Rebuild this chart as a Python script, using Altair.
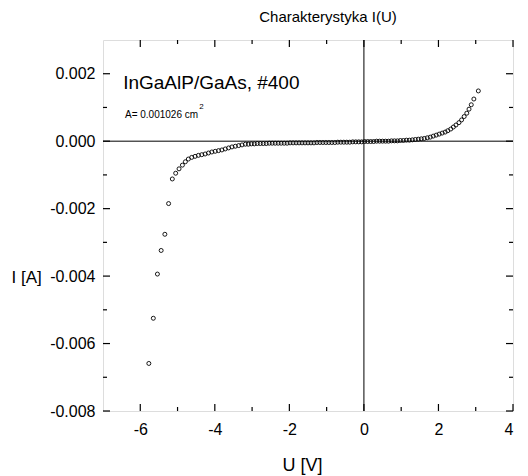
import altair as alt
import pandas as pd

# ---- data ----
U = [-5.77, -5.65, -5.54, -5.44, -5.34, -5.24, -5.14, -5.05, -4.96, -4.87,
     -4.79, -4.71, -4.62, -4.53, -4.44, -4.35, -4.26, -4.17, -4.08, -3.99,
     -3.90, -3.81, -3.72, -3.63, -3.54, -3.45, -3.36, -3.27,
     -3.18, -3.10, -3.02, -2.94, -2.86, -2.78, -2.70, -2.62, -2.54, -2.46,
     -2.38, -2.30, -2.22, -2.14, -2.06, -1.98, -1.90, -1.82, -1.74, -1.66,
     -1.58, -1.50, -1.42, -1.34, -1.26, -1.18, -1.10, -1.02, -0.94, -0.86,
     -0.78, -0.70, -0.62, -0.54, -0.46, -0.38, -0.30, -0.22, -0.14, -0.06,
     0.02, 0.10, 0.18, 0.26, 0.34, 0.42, 0.50, 0.58, 0.66, 0.74,
     0.82, 0.90, 0.98, 1.06, 1.14, 1.22, 1.30, 1.38, 1.46, 1.54,
     1.62, 1.70, 1.78, 1.86, 1.94, 2.02, 2.10, 2.18, 2.25, 2.33,
     2.40, 2.47, 2.55, 2.62, 2.69, 2.76, 2.82, 2.88, 2.95, 3.07]
I = [-0.00659, -0.00525, -0.00394, -0.00324, -0.00276, -0.00185, -0.00112, -0.00095, -0.00082, -0.00071,
     -0.00061, -0.00053, -0.00048, -0.00045, -0.00042, -0.00040, -0.00038, -0.00035, -0.00032, -0.00030,
     -0.00028, -0.00026, -0.00023, -0.00020, -0.00017, -0.00015, -0.00013, -0.00011,
     -0.00009, -0.00009, -0.00008, -0.00008, -0.00007, -0.00007, -0.00007, -0.00007, -0.00006, -0.00006,
     -0.00006, -0.00006, -0.00006, -0.00006, -0.00006, -0.00005, -0.00005, -0.00005, -0.00005, -0.00005,
     -0.00005, -0.00005, -0.00005, -0.00005, -0.00004, -0.00004, -0.00004, -0.00004, -0.00004, -0.00004,
     -0.00004, -0.00003, -0.00003, -0.00003, -0.00003, -0.00003, -0.00002, -0.00002, -0.00002, -0.00002,
     -0.00001, -0.00001, -0.00001, -0.00001, 0.00000, 0.00000, 0.00000, 0.00000, 0.00000, 0.00001,
     0.00001, 0.00001, 0.00002, 0.00002, 0.00003, 0.00003, 0.00004, 0.00005, 0.00006, 0.00007,
     0.00008, 0.00010, 0.00012, 0.00015, 0.00018, 0.00021, 0.00024, 0.00027, 0.00031, 0.00036,
     0.00042, 0.00048, 0.00055, 0.00063, 0.00073, 0.00083, 0.00095, 0.00108, 0.00125, 0.00149]

x_major = [-6, -4, -2, 0, 2, 4]
x_minor = [-5, -3, -1, 1, 3]
y_major = [-0.008, -0.006, -0.004, -0.002, 0.0, 0.002]
y_minor = [-0.007, -0.005, -0.003, -0.001, 0.001]

title_text = "Charakterystyka I(U)"
x_title = "U [V]"
y_title = "I [A]"
ann_text = ["InGaAlP/GaAs, #400", "A= 0.001026 cm", "2"]
ann_x = [-6.46, -6.41, -4.42]
ann_y = [0.00172, 0.00078, 0.00100]
ann_size = [19, 10, 8]

FONT = "Liberation Sans"
W, H = 410, 371
MINUS = "\u2212"

xs = alt.Scale(domain=[-7, 4], nice=False, zero=False)
ys = alt.Scale(domain=[-0.008, 0.003], nice=False, zero=False)

X_AXIS = alt.Axis(
    values=x_major, title=x_title, ticks=False, domain=False, grid=False,
    labelExpr=f"replace(format(datum.value, 'd'), '{MINUS}', '-')",
    labelFontSize=16, labelFont=FONT, labelColor="black", labelPadding=10,
    titleFontSize=18, titleFont=FONT, titleFontWeight="normal", titleColor="black",
    titleX=199, titleY=54, titleBaseline="middle")
Y_AXIS = alt.Axis(
    values=y_major, title=y_title, ticks=False, domain=False, grid=False,
    labelExpr=f"replace(format(datum.value, '.3f'), '{MINUS}', '-')",
    labelFontSize=16, labelFont=FONT, labelColor="black", labelPadding=8,
    titleFontSize=17, titleFont=FONT, titleFontWeight="normal", titleColor="black",
    titleAngle=0, titleX=-92, titleY=237, titleAlign="left", titleBaseline="middle")


def X(field):
    return alt.X(field, type="quantitative", scale=xs, axis=X_AXIS)


def Y(field):
    return alt.Y(field, type="quantitative", scale=ys, axis=Y_AXIS)


df = pd.DataFrame({"U": U, "I": I})
points = alt.Chart(df).mark_point(
    shape="circle", filled=False, color="black", size=16, strokeWidth=0.9, opacity=1
).encode(x=X("U"), y=Y("I"))

zero_x = alt.Chart(pd.DataFrame({"U": [0]})).mark_rule(color="black", strokeWidth=1).encode(x=X("U"))
zero_y = alt.Chart(pd.DataFrame({"I": [0]})).mark_rule(color="black", strokeWidth=1).encode(y=Y("I"))


def xticks(vals, length):
    d = pd.DataFrame({"U": vals})
    bottom = alt.Chart(d).mark_rule(color="black", strokeWidth=1.2).encode(
        x=X("U"), y=alt.value(H), y2=alt.value(H - length))
    top = alt.Chart(d).mark_rule(color="black", strokeWidth=1.2).encode(
        x=X("U"), y=alt.value(0), y2=alt.value(length))
    return [bottom, top]


def yticks(vals, length):
    d = pd.DataFrame({"I": vals})
    left = alt.Chart(d).mark_rule(color="black", strokeWidth=1.2).encode(
        y=Y("I"), x=alt.value(0), x2=alt.value(length))
    right = alt.Chart(d).mark_rule(color="black", strokeWidth=1.2).encode(
        y=Y("I"), x=alt.value(W), x2=alt.value(W - length))
    return [left, right]


ticks = xticks(x_major, 7) + xticks(x_minor, 4) + yticks(y_major, 7) + yticks(y_minor, 4)

ann_df = pd.DataFrame({"U": ann_x, "I": ann_y, "t": ann_text, "s": ann_size})
annotations = alt.Chart(ann_df).mark_text(
    align="left", baseline="middle", font=FONT, color="black"
).encode(
    x=X("U"), y=Y("I"),
    text="t:N",
    size=alt.Size("s:Q", scale=None, legend=None),
)

chart = alt.layer(zero_x, zero_y, *ticks, annotations, points).properties(
    width=W, height=H,
    title=alt.TitleParams(title_text, anchor="middle", dx=20, offset=14, fontSize=15,
                          font=FONT, fontWeight="normal", color="black"),
    autosize=alt.AutoSizeParams(type="none"),
    padding={"left": 103, "top": 40, "right": 15, "bottom": 65},
).configure_view(stroke="black", strokeWidth=1.5).configure(background="white")

chart.save("out.html", embed_options={"renderer": "svg", "actions": False})
